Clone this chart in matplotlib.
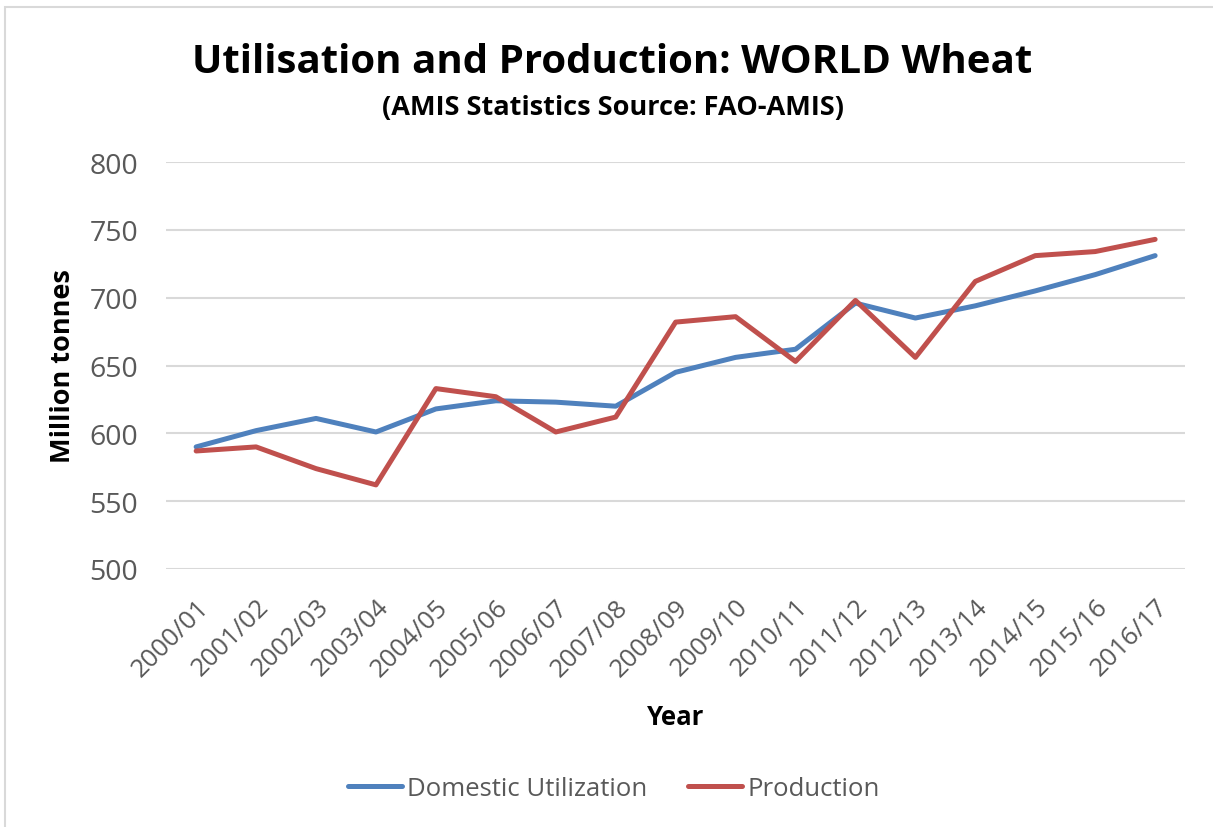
import matplotlib
matplotlib.use("Agg")
import matplotlib.pyplot as plt
from matplotlib.patches import Rectangle

years = ["2000/01", "2001/02", "2002/03", "2003/04", "2004/05", "2005/06",
         "2006/07", "2007/08", "2008/09", "2009/10", "2010/11", "2011/12",
         "2012/13", "2013/14", "2014/15", "2015/16", "2016/17"]
domestic_utilization = [590, 602, 611, 601, 618, 624, 623, 620, 645, 656,
                        662, 696, 685, 694, 705, 717, 731]
production = [587, 590, 574, 562, 633, 627, 601, 612, 682, 686,
              653, 698, 656, 712, 731, 734, 743]
y_ticks = [500, 550, 600, 650, 700, 750, 800]

plt.rcParams['font.family'] = ['Open Sans', 'DejaVu Sans']

fig = plt.figure(figsize=(12.13, 8.28), dpi=100)
fig.patches.append(Rectangle((0.004, -0.01), 1.2, 1.0, transform=fig.transFigure,
                             fill=False, edgecolor="#d9d9d9", linewidth=1.5))
ax = fig.add_axes([0.137, 0.3116, 0.840, 0.4915])

x = list(range(len(years)))
ax.plot(x, domestic_utilization, color="#4f81bd", linewidth=3.6,
        solid_capstyle="round", solid_joinstyle="round", label="Domestic Utilization")
ax.plot(x, production, color="#c0504d", linewidth=3.6,
        solid_capstyle="round", solid_joinstyle="round", label="Production")

ax.set_xlim(-0.5, len(years) - 0.5)
ax.set_ylim(500, 800)
ax.set_yticks(y_ticks)
ax.set_yticklabels([str(v) for v in y_ticks], fontsize=20.5, color="#595959")
ax.set_xticks(x)
ax.set_xticklabels(years, rotation=45, ha="right", rotation_mode="anchor",
                   fontsize=18.5, color="#595959")
ax.tick_params(axis="y", length=0, pad=20)
ax.tick_params(axis="x", length=0, pad=18)
ax.grid(axis="y", color="#d9d9d9", linewidth=1.5)
ax.set_axisbelow(True)
for s in ax.spines.values():
    s.set_visible(False)

ax.set_ylabel("Million tonnes", fontsize=19.5, fontweight="bold", labelpad=10)
ax.set_xlabel("Year", fontsize=18.5, fontweight="bold", labelpad=16)

fig.text(0.505, 0.925, "Utilisation and Production: WORLD Wheat",
         ha="center", va="center", fontsize=29, fontweight="bold")
fig.text(0.505, 0.870, "(AMIS Statistics Source: FAO-AMIS)",
         ha="center", va="center", fontsize=19.5, fontweight="bold")

fig.legend(loc="center", bbox_to_anchor=(0.506, 0.046), ncol=2, frameon=False,
           fontsize=18.5, handlelength=2.1, handletextpad=0.2, columnspacing=1.6,
           labelcolor="#595959")

fig.savefig("out.png", dpi=100)
